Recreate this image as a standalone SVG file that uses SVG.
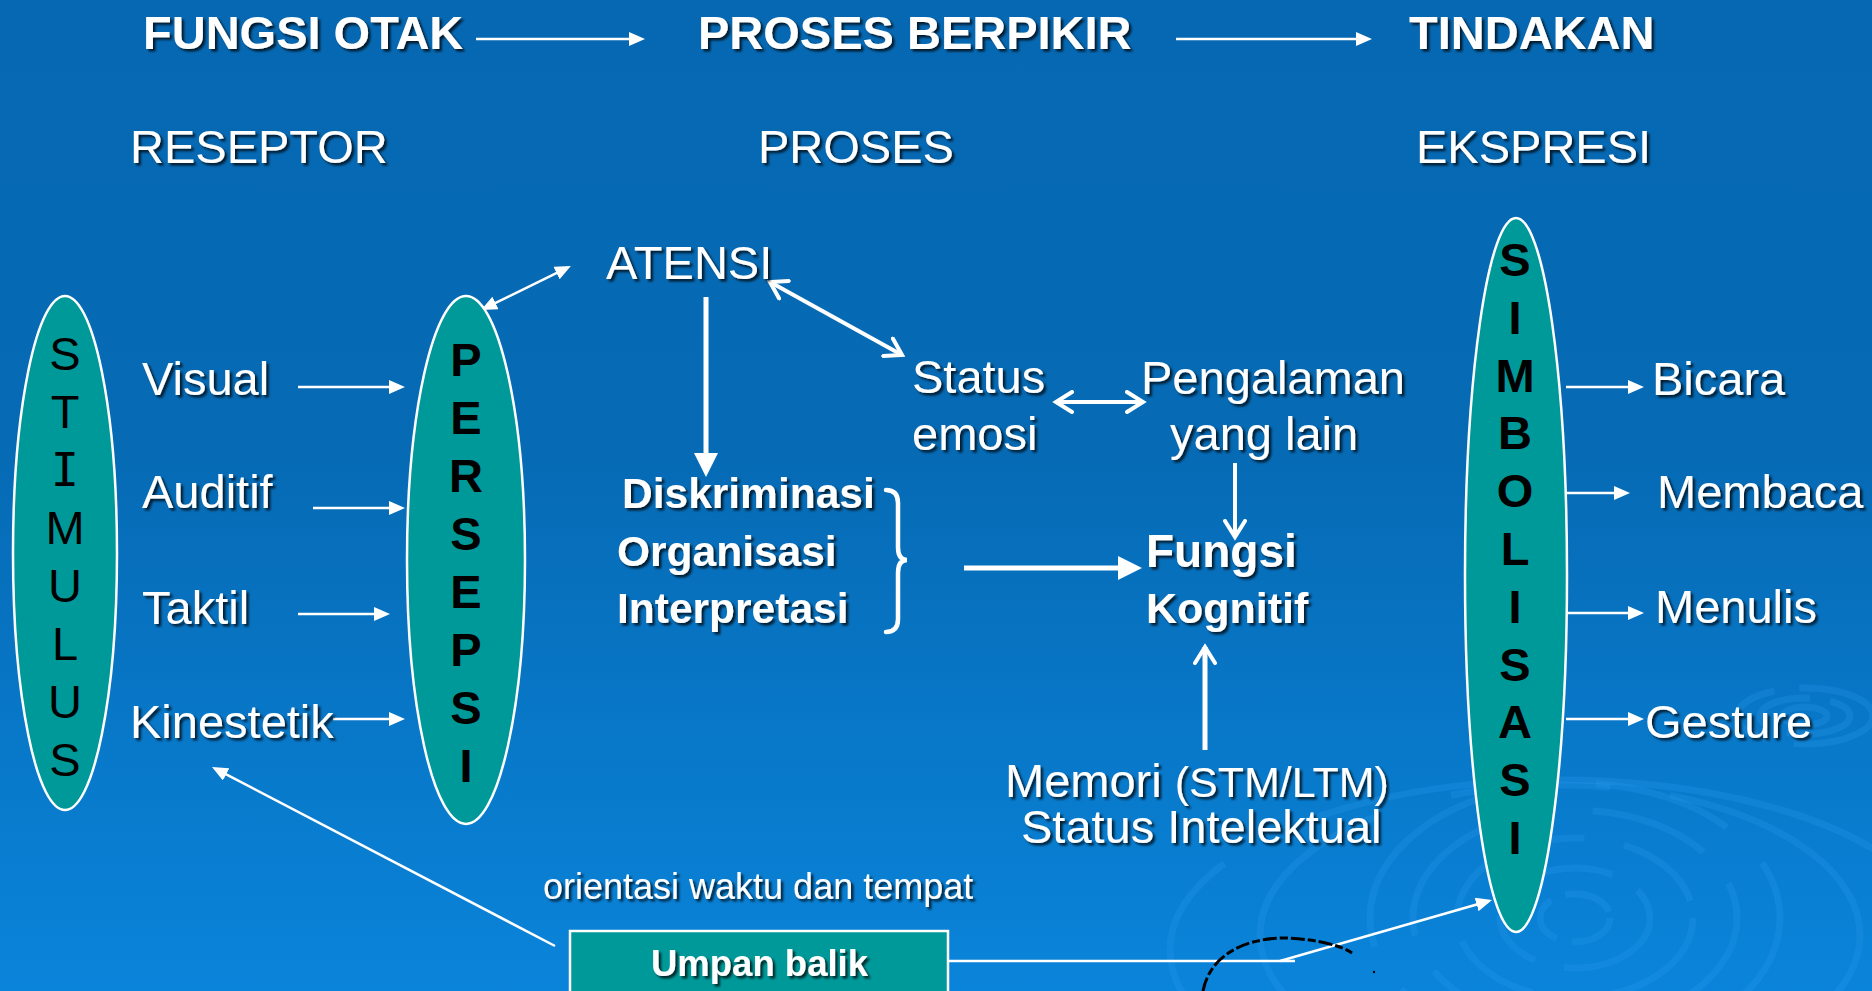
<svg xmlns="http://www.w3.org/2000/svg" width="1872" height="991" viewBox="0 0 1872 991">
<style>
.t{font-family:"Liberation Sans",Arial,sans-serif;fill:#fff;font-size:47px;filter:url(#sh)}
.b{font-weight:bold}
.lt{font-family:"Liberation Sans",Arial,sans-serif;fill:#000;font-size:47px;text-anchor:middle}
.ov{fill:#009999;stroke:#fff;stroke-width:2.5}
.thin{stroke:#fff;stroke-width:2.5;fill:none}
.mid{stroke:#fff;stroke-width:4;fill:none}
.thick{stroke:#fff;stroke-width:5;fill:none}
.rp{fill:none;stroke:#2a9af0;stroke-opacity:0.25;stroke-width:7}
</style>
<defs>
<linearGradient id="bg" x1="0" y1="0" x2="0" y2="1">
<stop offset="0" stop-color="#0668b2"/>
<stop offset="0.45" stop-color="#066ab4"/>
<stop offset="1" stop-color="#0a84da"/>
</linearGradient>
<filter id="sh" x="-5%" y="-10%" width="115%" height="130%">
<feDropShadow dx="2.5" dy="2.5" stdDeviation="0.8" flood-color="#000" flood-opacity="0.75"/>
</filter>
<marker id="tri" viewBox="0 0 16 14" refX="1" refY="7" markerWidth="16" markerHeight="14" markerUnits="userSpaceOnUse" orient="auto-start-reverse">
<path d="M0,0 L16,7 L0,14 z" fill="#fff"/>
</marker>
<marker id="big" viewBox="0 0 24 24" refX="2" refY="12" markerWidth="24" markerHeight="24" markerUnits="userSpaceOnUse" orient="auto">
<path d="M0,0 L24,12 L0,24 z" fill="#fff"/>
</marker>
<marker id="chev" viewBox="-2 -2 22 24" refX="16" refY="10" markerWidth="22" markerHeight="24" markerUnits="userSpaceOnUse" orient="auto-start-reverse">
<path d="M0,0 L16,10 L0,20" fill="none" stroke="#fff" stroke-width="4" stroke-linecap="round" stroke-linejoin="miter"/>
</marker>
</defs>
<rect width="1872" height="991" fill="url(#bg)"/>
<g id="ripples">
<ellipse class="rp" cx="1575" cy="918" rx="35" ry="24" stroke-dasharray="50 15"/>
<ellipse class="rp" cx="1575" cy="918" rx="75" ry="50" stroke-dasharray="110 30 60 25"/>
<ellipse class="rp" cx="1575" cy="918" rx="118" ry="80" stroke-dasharray="160 40 90 30"/>
<ellipse class="rp" cx="1575" cy="918" rx="162" ry="108" stroke-dasharray="200 50 120 40"/>
<ellipse class="rp" cx="1575" cy="918" rx="205" ry="135" stroke-dasharray="260 60 140 50"/>
<ellipse class="rp" cx="1560" cy="935" rx="300" ry="150" stroke-opacity="0.15" stroke-dasharray="300 80 160 60"/>
<ellipse class="rp" cx="1560" cy="950" rx="390" ry="170" stroke-opacity="0.12" stroke-dasharray="340 90 180 70"/>
<ellipse class="rp" cx="1805" cy="716" rx="22" ry="9" stroke-width="5"/>
<ellipse class="rp" cx="1805" cy="716" rx="45" ry="18" stroke-width="5" stroke-dasharray="70 20"/>
<ellipse class="rp" cx="1805" cy="716" rx="68" ry="28" stroke-width="4" stroke-dasharray="90 25"/>
</g>
<g id="connectors">
<line class="thin" x1="476" y1="39" x2="630" y2="39" marker-end="url(#tri)"/>
<line class="thin" x1="1176" y1="39" x2="1357" y2="39" marker-end="url(#tri)"/>
<line class="thin" x1="298" y1="387" x2="390" y2="387" marker-end="url(#tri)"/>
<line class="thin" x1="313" y1="508" x2="390" y2="508" marker-end="url(#tri)"/>
<line class="thin" x1="298" y1="614" x2="375" y2="614" marker-end="url(#tri)"/>
<line class="thin" x1="333" y1="719" x2="390" y2="719" marker-end="url(#tri)"/>
<line class="thin" x1="494.6" y1="303.4" x2="557.4" y2="272.6" marker-start="url(#tri)" marker-end="url(#tri)"/>
<line class="thick" x1="706" y1="297" x2="706" y2="455" marker-end="url(#big)"/>
<line class="mid" x1="770" y1="282" x2="902" y2="355" marker-start="url(#chev)" marker-end="url(#chev)"/>
<line class="mid" x1="1056" y1="402" x2="1143" y2="402" marker-start="url(#chev)" marker-end="url(#chev)"/>
<line class="mid" x1="1235" y1="463" x2="1235" y2="537" marker-end="url(#chev)"/>
<line class="thick" x1="964" y1="568" x2="1120" y2="568" marker-end="url(#big)"/>
<line class="thick" x1="1205" y1="750" x2="1205" y2="647" marker-end="url(#chev)"/>
<path class="mid" style="stroke-width:4.5;stroke-linecap:round" d="M886 490 Q898 490 898 503 L898 547 Q898 560 907 560 Q898 560 898 573 L898 619 Q898 632 886 632"/>
<line class="thin" x1="555" y1="946" x2="225.3" y2="773.9" marker-end="url(#tri)"/>
<line class="thin" x1="949" y1="961" x2="1295" y2="961"/>
<line class="thin" x1="1280" y1="961" x2="1477.6" y2="904.2" marker-end="url(#tri)"/>
<line class="thin" x1="1566" y1="387" x2="1629" y2="387" marker-end="url(#tri)"/>
<line class="thin" x1="1566" y1="493" x2="1615" y2="493" marker-end="url(#tri)"/>
<line class="thin" x1="1566" y1="613" x2="1629" y2="613" marker-end="url(#tri)"/>
<line class="thin" x1="1566" y1="719" x2="1629" y2="719" marker-end="url(#tri)"/>
</g>
<g id="arc">
<path d="M1203 991 C1210 955 1245 938 1285 938 C1318 939 1342 946 1352 953" fill="none" stroke="#000" stroke-width="3" stroke-dasharray="14 3 8 3"/>
<circle cx="1374" cy="972" r="1.2" fill="#000"/>
</g>
<g id="header">
<text class="t b" x="143" y="49">FUNGSI OTAK</text>
<text class="t b" x="698" y="49">PROSES BERPIKIR</text>
<text class="t b" x="1409" y="49">TINDAKAN</text>
<text class="t" x="130" y="163">RESEPTOR</text>
<text class="t" x="758" y="163">PROSES</text>
<text class="t" x="1416" y="163">EKSPRESI</text>
</g>
<g id="stimulus">
<ellipse class="ov" cx="65" cy="553" rx="52" ry="257"/>
<text class="lt" x="65" y="370">S</text>
<text class="lt" x="65" y="428">T</text>
<text class="lt" x="65" y="486" style="font-family:'DejaVu Sans Mono',monospace">I</text>
<text class="lt" x="65" y="544">M</text>
<text class="lt" x="65" y="602">U</text>
<text class="lt" x="65" y="660">L</text>
<text class="lt" x="65" y="718">U</text>
<text class="lt" x="65" y="776">S</text>
</g>
<g id="inputs">
<text class="t" x="142" y="395">Visual</text>
<text class="t" x="142" y="508">Auditif</text>
<text class="t" x="142" y="624">Taktil</text>
<text class="t" x="130" y="738">Kinestetik</text>
</g>
<g id="persepsi">
<ellipse class="ov" cx="466" cy="560" rx="59" ry="264"/>
<text class="lt b" x="466" y="376">P</text>
<text class="lt b" x="466" y="434">E</text>
<text class="lt b" x="466" y="492">R</text>
<text class="lt b" x="466" y="550">S</text>
<text class="lt b" x="466" y="608">E</text>
<text class="lt b" x="466" y="666">P</text>
<text class="lt b" x="466" y="724">S</text>
<text class="lt b" x="466" y="782">I</text>
</g>
<g id="atensi">
<text class="t" x="606" y="279">ATENSI</text>
</g>
<g id="status-emosi">
<text class="t" x="912" y="393">Status</text>
<text class="t" x="912" y="450">emosi</text>
</g>
<g id="pengalaman">
<text class="t" x="1141" y="394">Pengalaman</text>
<text class="t" x="1170" y="450">yang lain</text>
</g>
<g id="proses-list">
<text class="t b" style="font-size:42.5px" x="622" y="508">Diskriminasi</text>
<text class="t b" style="font-size:42.5px" x="617" y="566">Organisasi</text>
<text class="t b" style="font-size:42.5px" x="617" y="623">Interpretasi</text>
</g>
<g id="fungsi-kognitif">
<text class="t b" style="font-size:46px" x="1146" y="567">Fungsi</text>
<text class="t b" style="font-size:43px" x="1146" y="623">Kognitif</text>
</g>
<g id="memori">
<text class="t" x="1005" y="797">Memori <tspan style="font-size:43px">(STM/LTM)</tspan></text>
<text class="t" x="1021" y="843">Status Intelektual</text>
</g>
<g id="orientasi">
<text class="t" style="font-size:36px" x="543" y="899">orientasi waktu dan tempat</text>
</g>
<g id="umpan-balik">
<rect x="570" y="931" width="378" height="75" fill="#009999" stroke="#fff" stroke-width="2.5"/>
<text class="t b" style="font-size:36.5px" x="651" y="976">Umpan balik</text>
</g>
<g id="simbolisasi">
<ellipse class="ov" cx="1516" cy="575" rx="51" ry="357"/>
<text class="lt b" x="1515" y="276">S</text>
<text class="lt b" x="1515" y="334">I</text>
<text class="lt b" x="1515" y="392">M</text>
<text class="lt b" x="1515" y="449">B</text>
<text class="lt b" x="1515" y="507">O</text>
<text class="lt b" x="1515" y="565">L</text>
<text class="lt b" x="1515" y="623">I</text>
<text class="lt b" x="1515" y="681">S</text>
<text class="lt b" x="1515" y="738">A</text>
<text class="lt b" x="1515" y="796">S</text>
<text class="lt b" x="1515" y="854">I</text>
</g>
<g id="outputs">
<text class="t" x="1652" y="395">Bicara</text>
<text class="t" x="1657" y="508">Membaca</text>
<text class="t" x="1655" y="623">Menulis</text>
<text class="t" x="1645" y="738">Gesture</text>
</g>
</svg>
